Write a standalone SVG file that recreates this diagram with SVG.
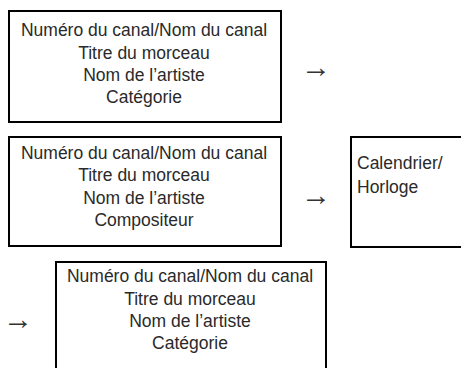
<svg xmlns="http://www.w3.org/2000/svg" width="461" height="368" viewBox="0 0 461 368">
<style>
.box{fill:#fff;stroke:#000;stroke-width:2}
.t{font-family:"Liberation Sans",Arial,sans-serif;font-size:17.5px;fill:#2a2a2a}
.c{text-anchor:middle}
.arr{font-family:"Liberation Sans",Arial,sans-serif;font-size:30px;fill:#333}
</style>
<rect width="461" height="368" fill="#fff"/>
<g id="node1">
<rect class="box" x="9" y="11" width="272" height="111"/>
<text class="t c" x="144" y="36">Numéro du canal/Nom du canal</text>
<text class="t c" x="144" y="58.5">Titre du morceau</text>
<text class="t c" x="144" y="81">Nom de l’artiste</text>
<text class="t c" x="144" y="103">Catégorie</text>
</g>
<g id="node2">
<rect class="box" x="9" y="137" width="272" height="109"/>
<text class="t c" x="144" y="158.5">Numéro du canal/Nom du canal</text>
<text class="t c" x="144" y="181">Titre du morceau</text>
<text class="t c" x="144" y="203.5">Nom de l’artiste</text>
<text class="t c" x="144" y="226">Compositeur</text>
</g>
<g id="node3">
<rect class="box" x="351" y="137" width="120" height="110"/>
<text class="t" x="357" y="169">Calendrier/</text>
<text class="t" x="357" y="192.5">Horloge</text>
</g>
<g id="node4">
<rect class="box" x="56" y="262" width="270" height="120"/>
<text class="t c" x="190" y="282">Numéro du canal/Nom du canal</text>
<text class="t c" x="190" y="304.5">Titre du morceau</text>
<text class="t c" x="190" y="327">Nom de l’artiste</text>
<text class="t c" x="190" y="349">Catégorie</text>
</g>
<g id="connectors">
<text class="arr" x="301" y="77">→</text>
<text class="arr" x="301" y="205">→</text>
<text class="arr" x="3" y="329">→</text>
</g>
</svg>
